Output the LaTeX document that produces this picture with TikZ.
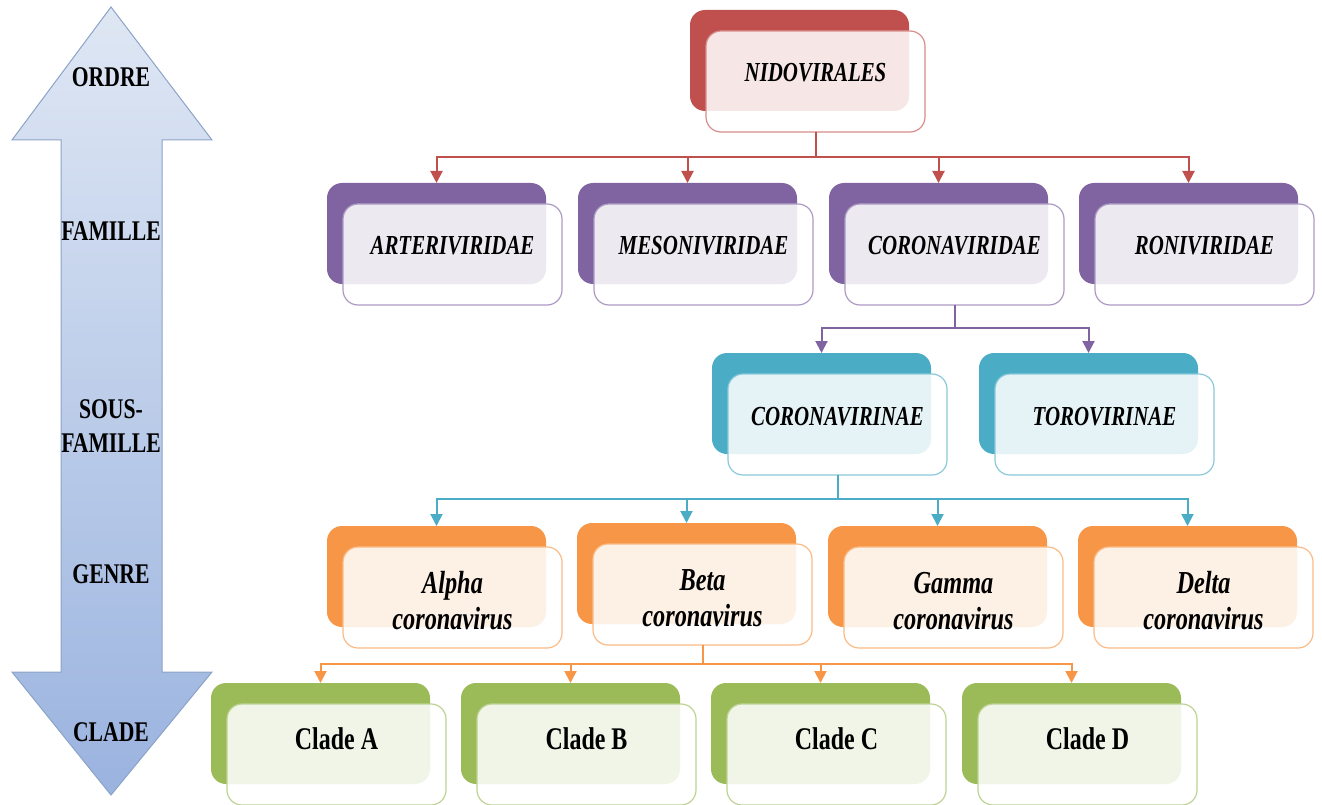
\documentclass[tikz,border=0pt]{standalone}
\usepackage{fontspec}
\setmainfont{Liberation Serif}[FakeStretch=0.76]
\usetikzlibrary{arrows.meta}
\definecolor{cRed}{HTML}{C0504D}
\definecolor{cPurple}{HTML}{8064A2}
\definecolor{cTeal}{HTML}{4BACC6}
\definecolor{cOrange}{HTML}{F79646}
\definecolor{cGreen}{HTML}{9BBB59}
\definecolor{arrTop}{HTML}{DFE7F4}
\definecolor{arrBot}{HTML}{9AB3DF}
\definecolor{arrEdge}{HTML}{8BA3C7}
\tikzset{
  backbox/.style={rectangle, rounded corners=15pt, minimum width=219pt, minimum height=101pt,
    inner sep=0pt, outer sep=0pt, fill=#1},
  frontbox/.style={rectangle, rounded corners=15pt, minimum width=219pt, minimum height=101pt,
    inner sep=0pt, outer sep=0pt, fill=white, fill opacity=0.86, draw=#1!65, line width=1.2pt},
  taxon/.style={font=\fontsize{27.5}{30}\selectfont\bfseries\itshape, inner sep=0pt},
  genus/.style={font=\fontsize{32}{36}\selectfont\bfseries\itshape, align=center, inner sep=0pt},
  clade/.style={font=\fontsize{31.5}{36}\selectfont\bfseries, inner sep=0pt},
  rank/.style={font=\fontsize{28.5}{34}\selectfont\bfseries, align=center, inner sep=0pt},
  link/.style={draw=#1, line width=2pt},
  linkarrow/.style={draw=#1, line width=2pt, -{Triangle[width=12pt,length=12pt]}},
  rankarrow/.style={top color=arrTop, bottom color=arrBot, draw=arrEdge, line width=1pt},
}
\newcommand\taxbox[4]{%
  \node[backbox=#2] (#1B) at ({#3+109.5},{#4+50.5}) {};
  \node[frontbox=#2] (#1) at ({#3+125.5},{#4+71.5}) {};}
\begin{document}
\begin{tikzpicture}[x=1pt,y=-1pt]
\useasboundingbox (0,0) rectangle (1322,805);
\clip (0,0) rectangle (1322,805);

% rank double arrow
\path[rankarrow] (111,7) -- (212,140) -- (162,140) -- (162,672) -- (212,672) -- (111,795)
  -- (12,672) -- (61,672) -- (61,140) -- (12,140) -- cycle;
\node[rank] (rOrdre) at (111,77) {ORDRE};
\node[rank] (rFam) at (111,231.5) {FAMILLE};
\node[rank] (rSous) at (111,426) {SOUS-\\FAMILLE};
\node[rank] (rGenre) at (111,574) {GENRE};
\node[rank] (rClade) at (111,732) {CLADE};

% boxes
\taxbox{nido}{cRed}{690}{10}
\taxbox{arter}{cPurple}{327}{183}
\taxbox{meson}{cPurple}{578}{183}
\taxbox{corvid}{cPurple}{829}{183}
\taxbox{ronid}{cPurple}{1079}{183}
\taxbox{corin}{cTeal}{712}{353}
\taxbox{torin}{cTeal}{979}{353}
\taxbox{alpha}{cOrange}{327}{526}
\taxbox{beta}{cOrange}{577}{523}
\taxbox{gamma}{cOrange}{828}{526}
\taxbox{delta}{cOrange}{1078}{526}
\taxbox{cladeA}{cGreen}{211}{683}
\taxbox{cladeB}{cGreen}{461}{683}
\taxbox{cladeC}{cGreen}{711}{683}
\taxbox{cladeD}{cGreen}{962}{683}

% texts
\node[taxon] (nidoT) at (815.5,73) {NIDOVIRALES};
\node[taxon] (arterT) at (452.5,246) {ARTERIVIRIDAE};
\node[taxon] (mesonT) at (703.5,246) {MESONIVIRIDAE};
\node[taxon] (corvidT) at (954.5,246) {CORONAVIRIDAE};
\node[taxon] (ronidT) at (1204.5,246) {RONIVIRIDAE};
\node[taxon] (corinT) at (837.5,416.5) {CORONAVIRINAE};
\node[taxon] (torinT) at (1104.5,416.5) {TOROVIRINAE};
\node[genus] (alphaT) at (452.5,601) {Alpha\\coronavirus};
\node[genus] (betaT) at (702.5,598) {Beta\\coronavirus};
\node[genus] (gammaT) at (953.5,601) {Gamma\\coronavirus};
\node[genus] (deltaT) at (1203.5,601) {Delta\\coronavirus};
\node[clade] (cladeAT) at (336.5,739) {Clade A};
\node[clade] (cladeBT) at (586.5,739) {Clade B};
\node[clade] (cladeCT) at (836.5,739) {Clade C};
\node[clade] (cladeDT) at (1087.5,739) {Clade D};

% connectors
\coordinate (jRed) at (815.5,157);
\draw[link=cRed] (nido.south) -- (jRed);
\foreach \t in {arterB, mesonB, corvidB, ronidB}
  \draw[linkarrow=cRed] (jRed) -| (\t.north);

\coordinate (jPurple) at (954.5,328);
\draw[link=cPurple] (corvid.south) -- (jPurple);
\foreach \t in {corinB, torinB}
  \draw[linkarrow=cPurple] (jPurple) -| (\t.north);

\coordinate (jTeal) at (837.5,499);
\draw[link=cTeal] (corin.south) -- (jTeal);
\foreach \t in {alphaB, betaB, gammaB, deltaB}
  \draw[linkarrow=cTeal] (jTeal) -| (\t.north);

\coordinate (jOrange) at (702.5,664);
\draw[link=cOrange] (beta.south) -- (jOrange);
\foreach \t in {cladeAB, cladeBB, cladeCB, cladeDB}
  \draw[linkarrow=cOrange] (jOrange) -| (\t.north);
\end{tikzpicture}
\end{document}
